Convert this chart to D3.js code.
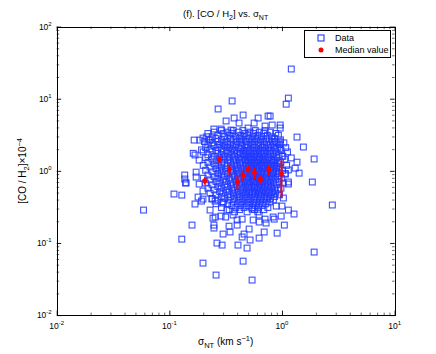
<!DOCTYPE html>
<html><head><meta charset="utf-8">
<script src="https://cdn.jsdelivr.net/npm/d3@7"></script>
<style>body{margin:0;background:#fff}svg{display:block;font-family:"Liberation Sans",Arial,Helvetica,sans-serif}</style>
</head><body><svg id="c" width="436" height="354"></svg>
<script>
// ---- tick values / labels ----
const xTickValues = [0.01, 0.1, 1, 10];
const xTickExp = ["-2", "-1", "0", "1"];
const yTickValues = [0.01, 0.1, 1, 10, 100];
const yTickExp = ["-2", "-1", "0", "1", "2"];

// ---- median values with error bars ----
const medianX = [0.207, 0.278, 0.341, 0.402, 0.452, 0.50, 0.569, 0.644, 0.764, 0.99];
const medianY = [0.73, 1.44, 1.04, 0.70, 0.867, 1.06, 0.946, 0.764, 1.035, 0.91];
const medianErr = [0.086, 0.165, 0.18, 0.15, 0.14, 0.11, 0.18, 0.11, 0.18, 0.49];

// ---- scattered data (outer points) ----
const outerPoints = [
 [0.059,0.286],[0.110,0.477],[0.129,0.461],[0.141,0.68],[0.137,0.875],[0.137,0.77],[0.139,0.68],
 [0.173,0.96],[0.173,0.82],[0.180,0.433],[0.169,0.347],[0.159,0.177],[0.129,0.113],[0.166,2.67],
 [0.187,2.67],[0.169,1.66],[0.184,1.41],[0.184,0.656],[0.163,1.75],[0.193,1.95],
 [0.361,9.3],[0.271,7.2],[0.319,4.91],[0.376,5.40],[0.452,5.94],[0.614,5.40],[0.753,5.75],
 [0.566,4.60],[0.416,4.60],[0.708,4.18],[0.249,3.80],[0.288,3.80],[0.353,3.68],[0.50,3.92],
 [0.225,2.67],[0.199,2.85],
 [1.21,25.8],[1.14,10.2],[1.09,8.4],[0.785,5.75],[0.818,4.32],[0.964,4.32],[0.964,3.92],
 [1.36,2.94],[1.55,2.14],[1.93,1.46],[0.87,2.51],[0.964,2.51],[0.964,2.00],[1.00,1.60],
 [1.21,1.51],[1.36,1.32],[1.31,1.09],[1.42,0.93],[1.14,1.03],[1.07,0.90],[1.86,0.70],
 [1.14,0.70],[0.835,1.41],[0.835,0.93],[0.89,1.16],
 [1.14,0.656],[2.80,0.336],[1.03,0.42],[1.14,0.286],[1.28,0.252],[0.984,0.236],[0.853,0.214],
 [1.05,0.177],[0.906,0.137],[1.93,0.0748],[0.89,0.325],[1.00,0.325],[0.835,0.229],
 [0.199,0.0526],[0.26,0.0359],[0.452,0.056],[0.543,0.0306],[0.265,0.0997],[0.294,0.0935],
 [0.407,0.0935],[0.49,0.085],[0.521,0.110],[0.627,0.117],[0.695,0.142],[0.30,0.133],
 [0.346,0.142],[0.443,0.121],[0.249,0.177],[0.249,0.161],[0.244,0.221],[0.339,0.171],
 [0.40,0.177],[0.461,0.133],[0.511,0.156],[0.627,0.195],[0.723,0.189],[0.23,0.286],
 [0.255,0.229],[0.288,0.236],[0.325,0.286],[0.316,0.229],[0.368,0.244],[0.40,0.208],
 [0.443,0.214],[0.543,0.295],[0.555,0.208],[0.627,0.244],[0.708,0.214],[0.199,0.525],
 [0.199,0.406],[0.239,0.406],[0.255,0.381],[0.30,0.357],[0.193,0.381]
];

// ---- scattered data (dense core, row by row) ----
const coreRowY = [3.62,3.44,3.30,3.11,2.97,2.80,2.69,2.55,2.44,2.31,2.22,2.10,2.01,1.92,1.83,1.75,
  1.67,1.59,1.52,1.45,1.38,1.31,1.25,1.19,1.13,1.07,1.02,0.97,0.92,0.875,0.83,0.79,0.75,0.71,
  0.675,0.64,0.605,0.575,0.545,0.515,0.49,0.465,0.44,0.415,0.395,0.37,0.35,0.33,0.31,0.29,0.27];
const coreRowX = [
 [0.29,0.37,0.45,0.58,0.71],
 [0.25,0.33,0.41,0.52,0.63,0.79],
 [0.22,0.30,0.36,0.47,0.56,0.69,0.88],
 [0.27,0.34,0.43,0.50,0.61,0.74,0.93],
 [0.215,0.24,0.31,0.39,0.46,0.55,0.66,0.81],
 [0.26,0.35,0.42,0.51,0.59,0.72,0.86],
 [0.23,0.29,0.37,0.44,0.54,0.64,0.77,0.97],
 [0.205,0.27,0.32,0.40,0.48,0.57,0.68,0.83],
 [0.24,0.30,0.35,0.43,0.52,0.62,0.73,0.90,1.04],
 [0.22,0.28,0.33,0.39,0.47,0.55,0.65,0.79,0.96],
 [0.25,0.31,0.37,0.44,0.50,0.60,0.70,0.84],
 [0.21,0.27,0.34,0.41,0.49,0.57,0.67,0.76,0.92,1.08],
 [0.23,0.29,0.36,0.43,0.53,0.62,0.72,0.87],
 [0.26,0.32,0.38,0.46,0.51,0.59,0.69,0.80,0.98],
 [0.20,0.24,0.30,0.35,0.42,0.49,0.56,0.65,0.75,0.89,1.12],
 [0.27,0.33,0.40,0.45,0.53,0.61,0.70,0.83],
 [0.22,0.29,0.36,0.43,0.48,0.57,0.66,0.78,0.94],
 [0.25,0.31,0.38,0.46,0.52,0.60,0.71,0.85,1.02],
 [0.21,0.28,0.34,0.41,0.50,0.56,0.64,0.76,0.90],
 [0.24,0.30,0.37,0.44,0.48,0.54,0.62,0.69,0.81,1.06],
 [0.26,0.33,0.39,0.47,0.52,0.59,0.67,0.74,0.87],
 [0.22,0.29,0.35,0.42,0.50,0.57,0.64,0.72,0.84,0.97],
 [0.25,0.31,0.38,0.45,0.54,0.61,0.69,0.79,0.91],
 [0.20,0.27,0.33,0.40,0.48,0.52,0.59,0.66,0.75,0.86,1.10],
 [0.23,0.29,0.36,0.43,0.50,0.56,0.63,0.71,0.82,0.95],
 [0.26,0.32,0.39,0.46,0.53,0.60,0.68,0.77,0.89],
 [0.21,0.28,0.35,0.41,0.48,0.55,0.62,0.73,0.84,1.01],
 [0.24,0.30,0.37,0.44,0.51,0.58,0.66,0.75,0.88],
 [0.27,0.33,0.40,0.47,0.53,0.61,0.70,0.80,0.93,1.07],
 [0.22,0.29,0.36,0.42,0.49,0.56,0.64,0.73,0.85],
 [0.25,0.31,0.38,0.45,0.52,0.59,0.67,0.78,0.91],
 [0.20,0.27,0.34,0.41,0.48,0.55,0.62,0.71,0.82,0.99],
 [0.23,0.30,0.36,0.43,0.50,0.57,0.65,0.75,0.87],
 [0.26,0.32,0.39,0.46,0.53,0.60,0.68,0.79,0.94],
 [0.21,0.28,0.35,0.42,0.49,0.56,0.63,0.72,0.84,1.03],
 [0.24,0.31,0.37,0.44,0.51,0.58,0.66,0.76,0.89],
 [0.27,0.33,0.40,0.47,0.54,0.61,0.70,0.81],
 [0.22,0.29,0.36,0.43,0.50,0.57,0.64,0.74,0.86,0.98],
 [0.25,0.32,0.38,0.45,0.52,0.60,0.68,0.78,0.92],
 [0.28,0.34,0.41,0.48,0.55,0.63,0.72,0.83],
 [0.23,0.30,0.37,0.44,0.51,0.58,0.66,0.76,0.88],
 [0.26,0.33,0.40,0.47,0.54,0.62,0.70,0.81,0.95],
 [0.29,0.35,0.42,0.49,0.57,0.65,0.74,0.86],
 [0.24,0.31,0.38,0.45,0.52,0.60,0.69,0.79],
 [0.27,0.34,0.41,0.48,0.56,0.64,0.73,0.84],
 [0.30,0.37,0.44,0.51,0.59,0.68,0.78],
 [0.26,0.33,0.40,0.47,0.55,0.63,0.72],
 [0.36,0.43,0.50,0.58,0.67],
 [0.29,0.39,0.46,0.54,0.62,0.75],
 [0.34,0.42,0.57,0.69],
 [0.38,0.49,0.61]
];

const allPoints = [];
coreRowY.forEach((yv, i) => coreRowX[i].forEach(xv => allPoints.push([xv, yv])));
outerPoints.forEach(p => allPoints.push(p));

// ---- layout ----
const m = {l: 56.7, r: 394.6, t: 26.6, b: 315.1};
const svg = d3.select("#c");
const x = d3.scaleLog().domain([0.01, 10]).range([m.l, m.r]);
const y = d3.scaleLog().domain([0.01, 100]).range([m.b, m.t]);

const blue = "rgb(30,55,255)", red = "#ff0000";

function minors(lo, hi) {
  const out = [];
  for (let e = lo; e < hi; e++) for (let k = 2; k <= 9; k++) out.push(k * Math.pow(10, e));
  return out;
}
const xMinor = minors(-2, 1), yMinor = minors(-2, 2);

svg.append("rect").attr("x", m.l).attr("y", m.t).attr("width", m.r - m.l).attr("height", m.b - m.t).attr("fill", "#fff");

// data squares
const sq = 5.8;
svg.append("g").selectAll("rect").data(allPoints).join("rect")
  .attr("x", d => x(d[0]) - sq / 2).attr("y", d => y(d[1]) - sq / 2)
  .attr("width", sq).attr("height", sq)
  .attr("fill", "none").attr("stroke", blue).attr("stroke-width", 1.15).attr("stroke-opacity", 0.85);

// medians with error bars
const med = medianX.map((v, i) => ({x: v, y: medianY[i], e: medianErr[i]}));
svg.append("g").selectAll("line").data(med).join("line")
  .attr("x1", d => x(d.x)).attr("x2", d => x(d.x))
  .attr("y1", d => y(d.y + d.e)).attr("y2", d => y(Math.max(d.y - d.e, 0.011)))
  .attr("stroke", red).attr("stroke-width", 1.9);
svg.append("g").selectAll("circle").data(med).join("circle")
  .attr("cx", d => x(d.x)).attr("cy", d => y(d.y)).attr("r", 2.5).attr("fill", red);

// axes
function addAxis(axisFn, scale, transform, majors, minorsV) {
  svg.append("g").attr("transform", transform)
    .call(axisFn(scale).tickValues(minorsV).tickSize(-2.5).tickFormat("").tickSizeOuter(0))
    .call(g => g.select(".domain").remove())
    .call(g => g.selectAll("line").attr("stroke", "#444").attr("stroke-width", 0.8));
  svg.append("g").attr("transform", transform)
    .call(axisFn(scale).tickValues(majors).tickSize(-4.5).tickFormat("").tickSizeOuter(0))
    .call(g => g.select(".domain").attr("stroke", "#000").attr("stroke-width", 1).attr("shape-rendering", "crispEdges"))
    .call(g => g.selectAll("line").attr("stroke", "#000").attr("stroke-width", 0.9));
}
addAxis(d3.axisBottom, x, `translate(0,${m.b})`, xTickValues, xMinor);
addAxis(d3.axisTop, x, `translate(0,${m.t})`, xTickValues, xMinor);
addAxis(d3.axisLeft, y, `translate(${m.l},0)`, yTickValues, yMinor);
addAxis(d3.axisRight, y, `translate(${m.r},0)`, yTickValues, yMinor);

// tick labels
const fs = 8.5;
xTickValues.forEach((v, i) => {
  const t = svg.append("text").attr("x", x(v)).attr("y", m.b + 14).attr("text-anchor", "middle")
    .attr("font-size", fs).attr("fill", "#000");
  t.append("tspan").text("10");
  t.append("tspan").attr("dy", -4).attr("font-size", 6).text(xTickExp[i]);
});
yTickValues.forEach((v, i) => {
  const t = svg.append("text").attr("x", m.l - 5).attr("y", y(v) + 3).attr("text-anchor", "end")
    .attr("font-size", fs).attr("fill", "#000");
  t.append("tspan").text("10");
  t.append("tspan").attr("dy", -4).attr("font-size", 6).text(yTickExp[i]);
});

// title
const title = svg.append("text").attr("x", (m.l + m.r) / 2).attr("y", 17).attr("text-anchor", "middle").attr("font-size", 9.5);
title.append("tspan").text("(f). [CO / H");
title.append("tspan").attr("dy", 2.5).attr("font-size", 7).text("2");
title.append("tspan").attr("dy", -2.5).text("] vs. σ");
title.append("tspan").attr("dy", 2.5).attr("font-size", 7).text("NT");

// x label
const xl = svg.append("text").attr("x", (m.l + m.r) / 2).attr("y", 345).attr("text-anchor", "middle").attr("font-size", 10);
xl.append("tspan").text("σ");
xl.append("tspan").attr("dy", 3).attr("font-size", 7.5).text("NT");
xl.append("tspan").attr("dy", -3).text(" (km s");
xl.append("tspan").attr("dy", -4).attr("font-size", 7.5).text("−1");
xl.append("tspan").attr("dy", 4).text(")");

// y label
const yl = svg.append("text").attr("transform", `translate(26,${(m.t + m.b) / 2}) rotate(-90)`)
  .attr("text-anchor", "middle").attr("font-size", 10);
yl.append("tspan").text("[CO / H");
yl.append("tspan").attr("dy", 3).attr("font-size", 7.5).text("2");
yl.append("tspan").attr("dy", -3).text("]×10");
yl.append("tspan").attr("dy", -4).attr("font-size", 7.5).text("−4");

// legend
const lg = svg.append("g");
lg.append("rect").attr("x", 304.5).attr("y", 30.5).attr("width", 86).attr("height", 27)
  .attr("fill", "#fff").attr("stroke", "#000").attr("stroke-width", 1).attr("shape-rendering", "crispEdges");
lg.append("rect").attr("x", 321 - 3).attr("y", 38 - 3).attr("width", 6).attr("height", 6)
  .attr("fill", "none").attr("stroke", blue).attr("stroke-width", 1.1);
lg.append("text").attr("x", 335).attr("y", 41.3).attr("font-size", 9).text("Data");
lg.append("circle").attr("cx", 321).attr("cy", 50).attr("r", 2.5).attr("fill", red);
lg.append("text").attr("x", 335).attr("y", 53.3).attr("font-size", 9).text("Median value");
</script></body></html>
